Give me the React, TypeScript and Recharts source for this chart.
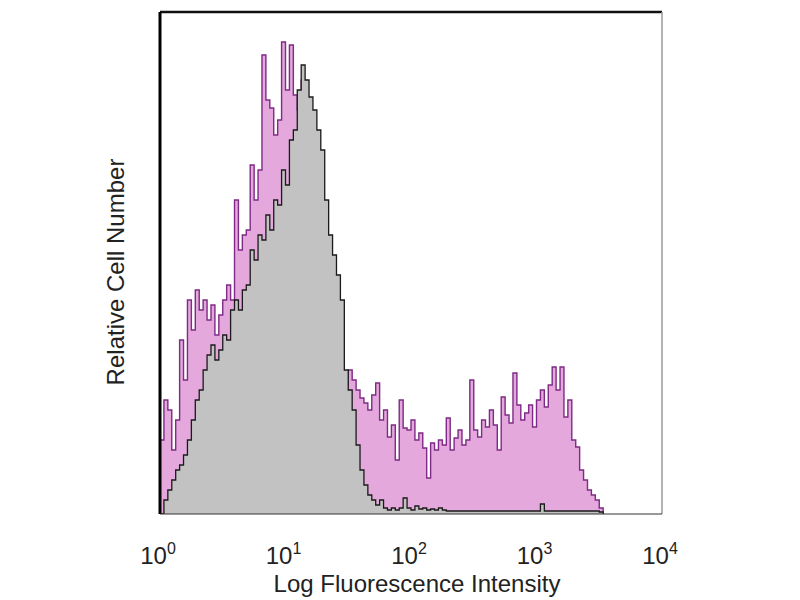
import { ComposedChart, Area, XAxis, YAxis, ReferenceLine } from 'recharts';

// histogram channels: 32 per decade, starting at 10^0
const CHANNELS_PER_DECADE = 32;

// stained sample (pink), relative counts
const stainedCounts = [
  74, 114, 104, 64, 94, 174, 134, 214, 184, 224,
  204, 214, 194, 209, 179, 199, 214, 229, 214, 314,
  264, 279, 284, 349, 314, 344, 459, 414, 406, 379,
  394, 472, 424, 469, 419, 404, 434, 394, 374, 354,
  324, 304, 274, 244, 214, 184, 154, 129, 144, 134,
  124, 116, 111, 104, 119, 131, 94, 104, 77, 89,
  54, 114, 86, 84, 94, 74, 81, 66, 36, 71,
  64, 74, 69, 96, 64, 76, 84, 69, 74, 134,
  84, 77, 94, 87, 104, 89, 64, 117, 99, 91,
  141, 109, 94, 101, 109, 87, 114, 124, 107, 129,
  147, 124, 147, 97, 114, 74, 67, 44, 34, 24,
  19, 14, 6, 0,
];

// isotype control (grey)
const isotypeCounts = [
  0, 14, 24, 34, 44, 49, 59, 74, 94, 114,
  124, 144, 159, 169, 154, 164, 179, 174, 204, 214,
  204, 224, 229, 264, 254, 279, 274, 299, 284, 314,
  309, 344, 329, 374, 384, 424, 449, 434, 417, 404,
  384, 364, 314, 279, 259, 239, 214, 144, 124, 104,
  69, 44, 29, 19, 14, 9, 14, 6, 4, 6,
  4, 6, 16, 6, 4, 8, 5, 6, 4, 5,
  4, 6, 4, 3, 3, 3, 3, 3, 3, 3,
  3, 3, 3, 3, 3, 3, 3, 3, 3, 3,
  3, 3, 3, 3, 3, 3, 3, 10, 3, 3,
  3, 3, 3, 3, 3, 3, 3, 3, 3, 3,
  3, 3, 2, 0,
];

const xTicks = [1, 10, 100, 1000, 10000];
const Y_MAX = 502;

const data = stainedCounts.map((stained, i) => ({
  x: Math.pow(10, i / CHANNELS_PER_DECADE),
  stained,
  isotype: isotypeCounts[i],
}));

const FONT = '"Liberation Sans", Arial, sans-serif';

const LogTick = ({ x, y, payload }: any) => {
  const exp = Math.round(Math.log10(payload.value));
  return (
    <text x={x - 2} y={y + 42} textAnchor="middle" fontFamily={FONT} fontSize={24} fill="#222">
      <tspan>10</tspan>
      <tspan dy={-10} fontSize={16}>{exp}</tspan>
    </text>
  );
};

// both axis titles drawn from the x axis label slot
const AxisTitles = ({ viewBox }: any) => {
  const cx = viewBox.x + viewBox.width / 2 + 6;
  const ly = 272;
  const lx = 124;
  return (
    <g fontFamily={FONT} fontSize={24} fill="#222">
      <text x={cx} y={viewBox.y + 78} textAnchor="middle">
        Log Fluorescence Intensity
      </text>
      <text x={lx} y={ly} transform={`rotate(-90, ${lx}, ${ly})`} textAnchor="middle">
        Relative Cell Number
      </text>
    </g>
  );
};

export default function App() {
  return (
    <div style={{ position: 'absolute', left: 0, top: 0, width: 800, height: 600, background: '#fff' }}>
      <ComposedChart width={800} height={600} data={data} margin={{ top: 12, right: 138, left: 160, bottom: 0 }}>
        <XAxis
          dataKey="x"
          type="number"
          scale="log"
          domain={[1, 10000]}
          allowDataOverflow
          ticks={xTicks}
          tick={<LogTick />}
          tickLine={false}
          axisLine={{ stroke: '#333', strokeWidth: 1 }}
          height={86}
          label={{ content: AxisTitles }}
        />
        <YAxis domain={[0, Y_MAX]} allowDataOverflow hide />
        <Area
          type="stepAfter"
          dataKey="stained"
          stroke="#7e2a86"
          strokeWidth={1.4}
          fill="#e4a8dc"
          fillOpacity={1}
          isAnimationActive={false}
        />
        <Area
          type="stepAfter"
          dataKey="isotype"
          stroke="#1a1a1a"
          strokeWidth={1.3}
          fill="#c2c2c2"
          fillOpacity={1}
          isAnimationActive={false}
        />
        <ReferenceLine y={Y_MAX} stroke="#111" strokeWidth={2.5} />
        <ReferenceLine x={1} stroke="#000" strokeWidth={3} />
        <ReferenceLine x={10000} stroke="#999" strokeWidth={1.5} />
      </ComposedChart>
    </div>
  );
}
